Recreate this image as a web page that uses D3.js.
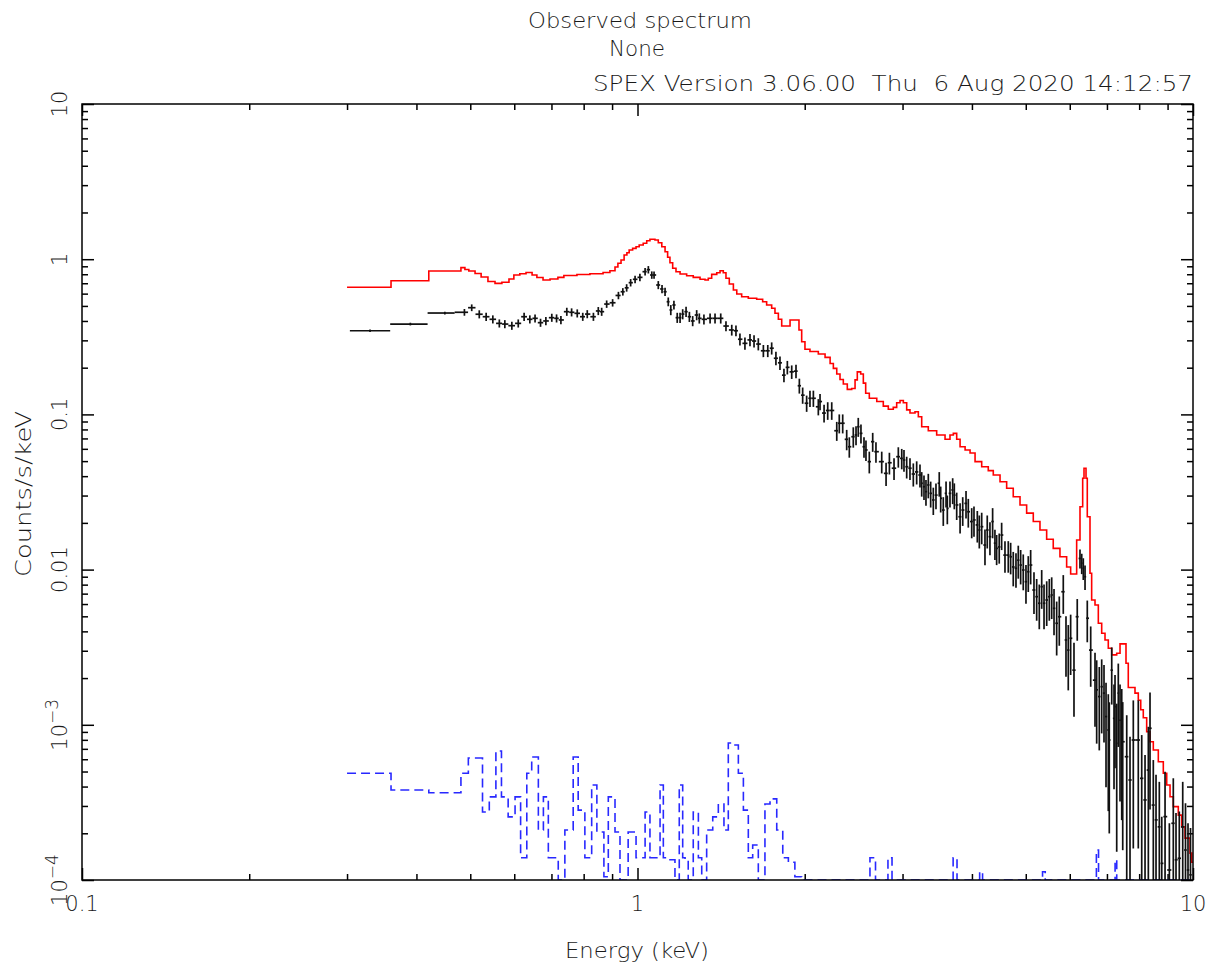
<!DOCTYPE html>
<html><head><meta charset="utf-8">
<script src="https://cdn.jsdelivr.net/npm/d3@7"></script>
<style>
body{margin:0;background:#fff}
text{font-family:"DejaVu Sans","Liberation Sans",sans-serif;font-weight:200;fill:#1a1a1a;white-space:pre}
</style>
</head><body><svg id="c" width="1215" height="964"></svg>
<script>
// ---------------- data ----------------
const titleLines = ["Observed spectrum", "None", "SPEX Version 3.06.00  Thu  6 Aug 2020 14:12:57"];
const xAxisLabel = "Energy (keV)";
const yAxisLabel = "Counts/s/keV";
const xMajor = [0.1, 1, 10];
const xTickLabels = ["0.1", "1", "10"];
const yMajor = [1e-4, 1e-3, 0.01, 0.1, 1, 10];
const yTickLabels = ["10^\u22124", "10^\u22123", "0.01", "0.1", "1", "10"];

// model (red histogram): left bin edges (keV) and counts/s/keV
const modelE = [0.300,0.360,0.421,0.481,0.489,0.497,0.510,0.523,0.538,0.554,
0.570,0.587,0.599,0.614,0.630,0.646,0.659,0.676,0.696,0.719,
0.737,0.778,0.821,0.867,0.892,0.911,0.922,0.934,0.946,0.957,
0.966,0.980,0.994,1.007,1.024,1.039,1.053,1.075,1.090,1.106,
1.121,1.133,1.144,1.157,1.173,1.193,1.226,1.260,1.296,1.323,
1.341,1.360,1.389,1.408,1.427,1.443,1.463,1.488,1.509,1.540,
1.583,1.639,1.680,1.708,1.744,1.768,1.793,1.818,1.882,1.953,
1.975,2.002,2.044,2.116,2.176,2.222,2.252,2.284,2.315,2.347,
2.386,2.430,2.464,2.487,2.522,2.550,2.575,2.614,2.696,2.770,
2.828,2.887,2.928,2.969,3.010,3.052,3.094,3.159,3.203,3.248,
3.338,3.456,3.578,3.652,3.703,3.755,3.808,3.888,3.969,4.052,
4.165,4.280,4.370,4.494,4.619,4.747,4.882,5.018,5.158,5.303,
5.452,5.603,5.761,5.923,6.022,6.174,6.260,6.330,6.365,6.418,
6.452,6.525,6.570,6.662,6.754,6.849,6.944,7.039,7.140,7.289,
7.390,7.575,7.647,7.863,7.971,8.052,8.138,8.253,8.368,8.483,
8.661,8.842,8.968,9.092,9.216,9.409,9.544,9.674,9.877,9.950];
const modelEnd = 10;
const modelV = [0.659,0.727,0.839,0.882,0.858,0.839,0.809,0.768,0.718,0.699,
0.710,0.746,0.791,0.806,0.821,0.791,0.762,0.734,0.746,0.764,
0.785,0.797,0.806,0.821,0.843,0.891,0.941,0.988,1.064,1.101,
1.146,1.175,1.204,1.234,1.266,1.316,1.344,1.330,1.277,1.204,
1.118,1.029,0.949,0.874,0.831,0.803,0.783,0.764,0.742,0.734,
0.753,0.799,0.818,0.843,0.818,0.753,0.692,0.633,0.597,0.573,
0.560,0.552,0.532,0.507,0.483,0.448,0.410,0.371,0.406,0.350,
0.294,0.263,0.254,0.245,0.233,0.213,0.198,0.182,0.168,0.157,
0.145,0.147,0.167,0.188,0.182,0.159,0.137,0.127,0.121,0.113,
0.108,0.111,0.119,0.123,0.119,0.107,0.102,0.104,0.0966,0.0833,
0.0785,0.0737,0.0691,0.0737,0.0755,0.0691,0.0619,0.0590,0.0564,0.0496,
0.0460,0.0434,0.0407,0.0368,0.0334,0.0295,0.0261,0.0231,0.0204,0.0180,
0.0157,0.0137,0.0121,0.0104,0.00937,0.0155,0.0254,0.0388,0.0450,0.0388,
0.0219,0.00947,0.00637,0.00591,0.00451,0.00389,0.00352,0.00311,0.00282,0.00289,
0.00332,0.00249,0.00174,0.00160,0.00144,0.00125,0.00111,0.000903,0.000778,0.000688,
0.000578,0.000487,0.000409,0.000344,0.000297,0.000262,0.000220,0.000186,0.000149,0.000130];

// observed data (black crosses): bin centres, rates, relative 1-sigma errors
const dataE = [0.330,0.390,0.450,0.488,0.503,0.519,0.534,0.549,0.564,0.577,
0.594,0.610,0.625,0.640,0.654,0.669,0.684,0.701,0.715,0.728,
0.746,0.761,0.779,0.797,0.812,0.833,0.850,0.862,0.880,0.902,
0.924,0.941,0.956,0.972,0.990,1.010,1.032,1.046,1.061,1.071,
1.090,1.107,1.121,1.136,1.148,1.163,1.179,1.193,1.206,1.223,
1.240,1.257,1.278,1.292,1.317,1.351,1.379,1.412,1.443,1.478,
1.504,1.529,1.561,1.594,1.621,1.650,1.685,1.716,1.744,1.775,
1.805,1.835,1.861,1.895,1.929,1.956,1.983,2.016,2.044,2.073,
2.116,2.131,2.167,2.200,2.237,2.284,2.308,2.341,2.380,2.406,
2.446,2.474,2.497,2.525,2.557,2.578,2.614,2.651,2.687,2.752,
2.802,2.841,2.896,2.948,2.990,3.018,3.052,3.094,3.137,3.181,
3.225,3.248,3.279,3.306,3.338,3.371,3.408,3.446,3.493,3.514,
3.552,3.593,3.612,3.652,3.693,3.718,3.755,3.808,3.850,3.903,
3.940,3.996,4.034,4.090,4.124,4.165,4.222,4.262,4.310,4.358,
4.400,4.431,4.479,4.524,4.587,4.650,4.696,4.747,4.801,4.847,
4.895,4.948,5.004,5.052,5.102,5.173,5.231,5.288,5.341,5.393,
5.453,5.512,5.567,5.621,5.683,5.745,5.841,5.907,5.963,6.022,
6.106,6.189,6.260,6.305,6.346,6.392,6.452,6.544,6.662,6.708,
6.781,6.849,6.915,6.973,7.039,7.068,7.140,7.208,7.238,7.289,
7.337,7.390,7.442,7.473,7.598,7.702,7.808,7.971,8.085,8.197,
8.310,8.368,8.483,8.579,8.697,8.785,8.906,9.067,9.216,9.320,
9.448,9.583,9.694,9.795,9.897];
const dataV = [0.346,0.382,0.450,0.455,0.487,0.442,0.426,0.410,0.386,0.382,
0.373,0.386,0.426,0.410,0.416,0.390,0.400,0.420,0.416,0.406,
0.459,0.455,0.448,0.426,0.443,0.426,0.464,0.459,0.514,0.524,
0.584,0.617,0.654,0.706,0.742,0.764,0.831,0.856,0.791,0.791,
0.682,0.643,0.617,0.532,0.471,0.507,0.420,0.420,0.443,0.459,
0.426,0.400,0.437,0.416,0.410,0.416,0.416,0.416,0.371,0.350,
0.346,0.305,0.287,0.302,0.297,0.284,0.257,0.257,0.267,0.230,
0.215,0.179,0.201,0.188,0.190,0.153,0.133,0.118,0.127,0.127,
0.112,0.121,0.102,0.106,0.106,0.0785,0.0877,0.0877,0.0691,0.0619,
0.0718,0.0737,0.0833,0.0755,0.0619,0.0590,0.0496,0.0667,0.0575,0.0496,
0.0417,0.0488,0.0450,0.0534,0.0521,0.0508,0.0460,0.0450,0.0413,0.0426,
0.0407,0.0360,0.0342,0.0318,0.0351,0.0310,0.0281,0.0302,0.0360,0.0288,
0.0242,0.0310,0.0248,0.0310,0.0326,0.0302,0.0261,0.0219,0.0242,0.0267,
0.0236,0.0204,0.0209,0.0194,0.0180,0.0189,0.0144,0.0180,0.0163,0.0204,
0.0148,0.0137,0.0140,0.0167,0.0124,0.0124,0.0121,0.0104,0.0102,0.0115,
0.0107,0.00994,0.00836,0.00969,0.0107,0.00739,0.00669,0.00607,0.00776,0.00607,
0.00637,0.00669,0.00686,0.00563,0.00451,0.00497,0.00720,0.00352,0.00303,0.00361,
0.00225,0.00497,0.0118,0.0110,0.0102,0.00900,0.00486,0.00303,0.00194,0.00168,
0.00152,0.00176,0.00160,0.00113,0.000926,0.000798,0.00225,0.00110,0.00131,0.000760,
0.00160,0.00107,0.000972,0.000778,0.000623,0.000441,0.000798,0.000798,0.000452,0.000328,
0.000511,0.000950,0.000304,0.000244,0.000220,0.000128,0.000256,0.000116,0.000232,0.000135,
0.000138,0.000220,0.000156,0.000116,0.000108];
const dataRelErr = [0.02,0.02,0.02,0.05,0.05,0.06,0.06,0.06,0.06,0.06,
0.06,0.06,0.06,0.06,0.06,0.06,0.06,0.06,0.06,0.06,
0.06,0.06,0.06,0.06,0.06,0.06,0.06,0.06,0.055,0.055,
0.055,0.055,0.055,0.055,0.055,0.055,0.055,0.055,0.055,0.055,
0.06,0.06,0.06,0.065,0.075,0.065,0.075,0.075,0.075,0.075,
0.075,0.075,0.075,0.075,0.075,0.075,0.075,0.075,0.075,0.08,
0.08,0.09,0.09,0.09,0.09,0.09,0.09,0.09,0.09,0.1,
0.1,0.1,0.1,0.1,0.1,0.11,0.12,0.12,0.12,0.12,
0.12,0.12,0.13,0.13,0.13,0.14,0.14,0.14,0.15,0.15,
0.15,0.14,0.14,0.14,0.15,0.15,0.16,0.14,0.15,0.16,
0.17,0.16,0.16,0.15,0.15,0.16,0.16,0.16,0.17,0.17,
0.17,0.18,0.18,0.19,0.18,0.19,0.2,0.19,0.18,0.19,
0.21,0.19,0.21,0.19,0.19,0.19,0.2,0.22,0.21,0.2,
0.21,0.22,0.22,0.23,0.24,0.23,0.26,0.24,0.24,0.22,
0.22,0.22,0.22,0.2,0.23,0.23,0.23,0.25,0.25,0.24,
0.25,0.26,0.28,0.26,0.25,0.3,0.3,0.32,0.28,0.32,
0.32,0.3,0.3,0.33,0.38,0.35,0.28,0.42,0.45,0.42,
0.5,0.3,0.14,0.15,0.16,0.18,0.3,0.42,0.5,0.55,
0.55,0.5,0.52,0.65,0.7,0.75,0.4,0.65,0.6,0.8,
0.55,0.7,0.75,0.8,0.85,0.9,0.8,0.8,0.9,0.95,
0.9,0.7,0.95,0.95,0.95,1.0,0.95,1.0,0.95,1.0,
1.0,0.95,1.0,1.0,1.0];

// background (blue dashed histogram): left bin edges and rates
const bgE = [0.300,0.360,0.421,0.481,0.496,0.511,0.526,0.541,0.556,0.569,
0.585,0.602,0.616,0.632,0.645,0.663,0.677,0.691,0.720,0.740,
0.766,0.782,0.804,0.827,0.845,0.870,0.886,0.911,0.930,0.962,
0.994,1.032,1.053,1.098,1.113,1.136,1.168,1.189,1.206,1.218,
1.234,1.260,1.287,1.305,1.332,1.366,1.398,1.431,1.457,1.488,
1.519,1.551,1.583,1.612,1.650,1.696,1.732,1.781,1.826,1.869,
1.920,1.975,2.621,2.682,2.824,2.872,3.700,3.760,4.130,4.180,
5.360,5.420,6.700,6.760,7.240,7.290];
const bgEnd = 10;
const bgV = [0.000487,0.000380,0.000365,0.000487,0.000611,0.000611,0.000274,0.000343,0.000678,0.000343,
0.000255,0.000343,0.000139,0.000487,0.000620,0.000210,0.000343,0.000139,0,0.000210,
0.000620,0.000282,0.000139,0.000409,0.000204,0.000105,0.000343,0.000204,0,0.000204,
0.000139,0.000274,0.000139,0.000409,0.000139,0.000135,0,0.000409,0.000139,0.000135,
0,0.000274,0.000139,0,0.000210,0.000255,0.000309,0.000210,0.000763,0.000741,
0.000487,0.000282,0.000139,0.000168,0,0.000309,0.000333,0.000210,0.000139,0.000130,
0.000105,0,0.000139,0,0.000139,0,0.000139,0,0.000113,0,
0.000113,0,0.000156,0,0.000135,0];

// ---------------- drawing ----------------
const svg = d3.select("#c");
const P = {l: 82, r: 1193, t: 104, b: 880};
const x = d3.scaleLog().domain([0.1, 10]).range([P.l, P.r]);
const y = d3.scaleLog().domain([1e-4, 10]).range([P.b, P.t]);
const yFloor = 1e-4;

svg.append("rect").attr("width", 1215).attr("height", 964).attr("fill", "#fff");
svg.append("clipPath").attr("id", "clip").append("rect")
  .attr("x", P.l).attr("y", P.t).attr("width", P.r - P.l).attr("height", P.b - P.t);

// minor ticks
const xMinor = [], yMinor = [];
[0.1, 1].forEach(d => { for (let k = 2; k <= 9; k++) xMinor.push(k * d); });
[1e-4, 1e-3, 1e-2, 0.1, 1].forEach(d => { for (let k = 2; k <= 9; k++) yMinor.push(k * d); });

function styleAxis(g) {
  g.select(".domain").remove();
  g.selectAll(".tick line").attr("stroke", "#000").attr("stroke-width", 1.5);
  g.selectAll(".tick text").remove();
}
[[d3.axisBottom, P.b], [d3.axisTop, P.t]].forEach(([ax, yy]) => {
  svg.append("g").attr("transform", `translate(0,${yy})`)
    .call(ax(x).tickValues(xMajor).tickSize(-12).tickFormat("")).call(styleAxis);
  svg.append("g").attr("transform", `translate(0,${yy})`)
    .call(ax(x).tickValues(xMinor).tickSize(-6).tickFormat("")).call(styleAxis);
});
[[d3.axisLeft, P.l], [d3.axisRight, P.r]].forEach(([ax, xx]) => {
  svg.append("g").attr("transform", `translate(${xx},0)`)
    .call(ax(y).tickValues(yMajor).tickSize(-12).tickFormat("")).call(styleAxis);
  svg.append("g").attr("transform", `translate(${xx},0)`)
    .call(ax(y).tickValues(yMinor).tickSize(-6).tickFormat("")).call(styleAxis);
});

// plot group
const g = svg.append("g").attr("clip-path", "url(#clip)");

// background histogram (blue dashed)
const bgPts = bgE.map((e, i) => [e, Math.max(bgV[i], yFloor)]);
bgPts.push([bgEnd, Math.max(bgV[bgV.length - 1], yFloor)]);
g.append("path").datum(bgPts)
  .attr("d", d3.line().x(d => x(d[0])).y(d => y(d[1])).curve(d3.curveStepAfter))
  .attr("fill", "none").attr("stroke", "#2828ff").attr("stroke-width", 1.6)
  .attr("stroke-dasharray", "9,5");

// model histogram (red)
const mPts = modelE.map((e, i) => [e, modelV[i]]);
mPts.push([modelEnd, modelV[modelV.length - 1]]);
g.append("path").datum(mPts)
  .attr("d", d3.line().x(d => x(d[0])).y(d => y(d[1])).curve(d3.curveStepAfter))
  .attr("fill", "none").attr("stroke", "#ff0000").attr("stroke-width", 1.6);

// data crosses
const n = dataE.length;
const pts = dataE.map((e, i) => {
  const r = i < n - 1 ? Math.sqrt(e * dataE[i + 1]) : e * e / Math.sqrt(dataE[n - 2] * e);
  const l = i > 0 ? Math.sqrt(dataE[i - 1] * e) : e * e / Math.sqrt(e * dataE[1]);
  const v = dataV[i], s = v * dataRelErr[i];
  return {l, r, e, v, hi: v + s, lo: Math.max(v - s, 1e-6)};
});
const dg = g.append("g").attr("stroke", "#111").attr("stroke-width", 1.7);
dg.selectAll("line.h").data(pts).join("line").attr("class", "h")
  .attr("x1", d => x(d.l)).attr("x2", d => x(d.r))
  .attr("y1", d => y(d.v)).attr("y2", d => y(d.v));
dg.selectAll("line.v").data(pts).join("line").attr("class", "v")
  .attr("x1", d => x(d.e)).attr("x2", d => x(d.e))
  .attr("y1", d => y(d.hi)).attr("y2", d => y(d.lo));

// frame
svg.append("rect").attr("x", P.l).attr("y", P.t).attr("width", P.r - P.l).attr("height", P.b - P.t)
  .attr("fill", "none").attr("stroke", "#000").attr("stroke-width", 1.5);

// titles
const tl = [
  {t: titleLines[0], x: 640, y: 28, a: "middle", w: 224},
  {t: titleLines[1], x: 637, y: 56, a: "middle", w: 56},
  {t: titleLines[2], x: 1193, y: 91, a: "end", w: 600}
];
tl.forEach(d => svg.append("text").attr("x", d.x).attr("y", d.y).attr("text-anchor", d.a)
  .attr("font-size", 21).attr("textLength", d.w).attr("lengthAdjust", "spacingAndGlyphs").text(d.t));

// x tick labels
xMajor.forEach((v, i) => svg.append("text").attr("x", x(v)).attr("y", 911)
  .attr("text-anchor", "middle").attr("font-size", 21).text(xTickLabels[i]));

// y tick labels (rotated)
yMajor.forEach((v, i) => {
  const t = svg.append("text").attr("transform", `translate(67,${y(v)}) rotate(-90)`)
    .attr("text-anchor", "middle").attr("font-size", 21);
  const parts = yTickLabels[i].split("^");
  t.append("tspan").text(parts[0]);
  if (parts[1]) t.append("tspan").attr("dy", -9).attr("font-size", 17).text(parts[1]);
});

// axis titles
svg.append("text").attr("x", 637).attr("y", 958).attr("text-anchor", "middle")
  .attr("font-size", 21).attr("textLength", 144).attr("lengthAdjust", "spacingAndGlyphs").text(xAxisLabel);
svg.append("text").attr("transform", "translate(31,494) rotate(-90)").attr("text-anchor", "middle")
  .attr("font-size", 21).attr("textLength", 166).attr("lengthAdjust", "spacingAndGlyphs").text(yAxisLabel);
</script>
</body></html>
